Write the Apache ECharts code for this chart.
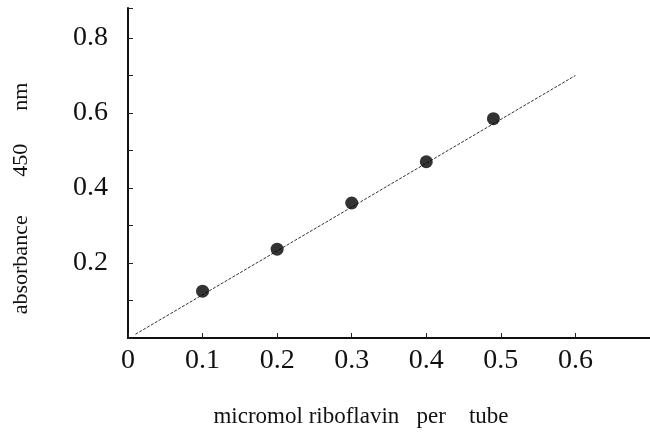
<!DOCTYPE html>
<html>
<head>
<meta charset="utf-8">
<script src="https://cdn.jsdelivr.net/npm/echarts@6/dist/echarts.min.js"></script>
<style>html,body{margin:0;padding:0;background:#fff}#c{width:650px;height:436px}</style>
</head>
<body>
<div id="c"></div>
<script>
// Data
const riboflavin = [0.1, 0.2, 0.3, 0.4, 0.49];
const absorbance = [0.125, 0.237, 0.36, 0.47, 0.585];
const fitX = [0.01, 0.6];
const fitY = [0.01, 0.70];
const xTickLabels = ['0', '0.1', '0.2', '0.3', '0.4', '0.5', '0.6'];
const yTickLabels = ['0.2', '0.4', '0.6', '0.8'];
const xTitle = 'micromol riboflavin   per    tube';
const yTitle = 'absorbance       450      nm';

const serif = 'Liberation Serif';
const chart = echarts.init(document.getElementById('c'), null, {renderer: 'canvas'});
chart.setOption({
  animation: false,
  backgroundColor: '#fff',
  grid: {left: 128, right: -3, top: 8, bottom: 98},
  xAxis: {
    type: 'value', min: 0, max: 0.7, interval: 0.1,
    axisLine: {show: true, lineStyle: {color: '#111', width: 2}},
    axisTick: {show: true, inside: true, length: 5, lineStyle: {color: '#222', width: 1}},
    splitLine: {show: false},
    axisLabel: {
      margin: 9, color: '#111', fontFamily: serif, fontSize: 28, showMaxLabel: false,
      formatter: function (v) {
        const s = v.toFixed(1) === '0.0' ? '0' : v.toFixed(1);
        return xTickLabels.indexOf(s) >= 0 ? s : '';
      }
    },
    name: xTitle, nameLocation: 'middle', nameGap: 67,
    nameTextStyle: {color: '#111', fontFamily: serif, fontSize: 23, padding: [0, 56, 0, 0]}
  },
  yAxis: {
    type: 'value', min: 0, max: 0.88, interval: 0.1,
    axisLine: {show: true, lineStyle: {color: '#111', width: 2}},
    axisTick: {show: true, inside: true, length: 5, lineStyle: {color: '#222', width: 1}},
    splitLine: {show: false},
    axisLabel: {
      margin: 20, color: '#111', fontFamily: serif, fontSize: 28,
      formatter: function (v) {
        const s = v.toFixed(1);
        return yTickLabels.indexOf(s) >= 0 && Math.abs(v - parseFloat(s)) < 1e-6 ? s : '';
      }
    },
    name: yTitle, nameLocation: 'middle', nameGap: 96, nameRotate: 90,
    nameTextStyle: {color: '#111', fontFamily: serif, fontSize: 22, padding: [0, 51, 0, 0]}
  },
  series: [
    {
      type: 'line',
      data: fitX.map((x, i) => [x, fitY[i]]),
      symbol: 'none',
      lineStyle: {color: '#333', width: 1, type: [3, 1.5]},
      z: 1
    },
    {
      type: 'scatter',
      data: riboflavin.map((x, i) => [x, absorbance[i]]),
      symbol: 'circle', symbolSize: 13,
      itemStyle: {color: '#000'},
      z: 2
    }
  ]
});
</script>
</body>
</html>
